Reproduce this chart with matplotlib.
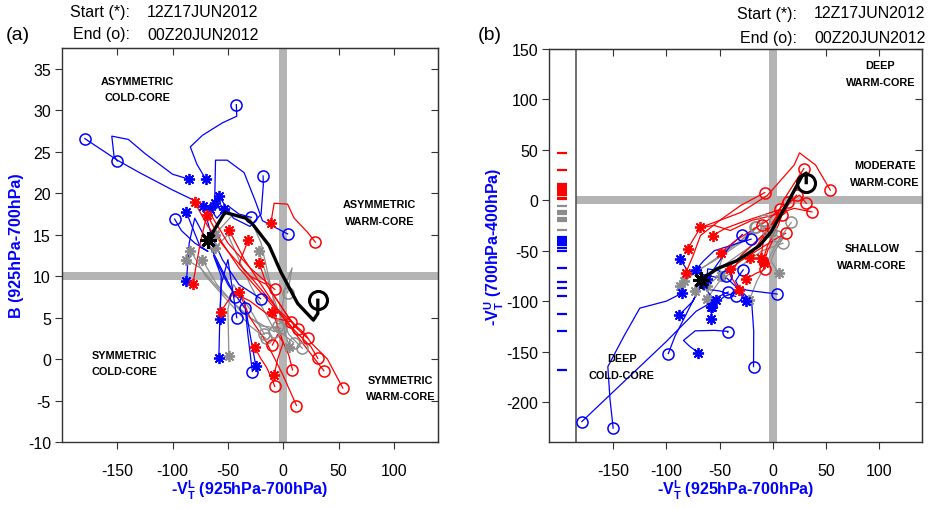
"""
Cyclone phase space: ensemble tracks, 12Z17JUN2012 -> 00Z20JUN2012.
(a) B vs -VTL, (b) -VTU vs -VTL.
"""

import matplotlib
matplotlib.use("Agg")
import matplotlib.pyplot as plt


# ─────────────────────────────────────────────
# DATA
# ─────────────────────────────────────────────

# each member: x = -VTL, b = B, u = -VTU (same number of points)
BLUE_X = [
    [-85, -100, -125, -140, -155, -153, -150],
    [-70, -78, -84, -73, -55, -42, -42.4],
    [-53.6, -72, -100, -130, -150, -179.4],
    [-62, -61.2, -50.6, -35.4, -25, -18.8, 4],
    [-58.2, -45, -30, -20, -18, -18.2],
    [-87.8, -75, -68, -80, -92, -98.2],
    [-87.5, -85, -80, -60, -45, -43.7],
    [-58.2, -57.5, -56, -50, -42],
    [-24.8, -30, -35, -32, -27.9],
    [-57.3, -56, -63, -50, -35],
    [-72.4, -65, -55, -40, -20.5],
    [-65.8, -60, -50, -40, -28.7],
]
BLUE_B = [
    [21.7, 22.3, 24.8, 26.5, 26.9, 24.5, 23.9],
    [21.7, 23.5, 25.6, 27, 28.5, 29.3, 30.7],
    [18.1, 18.6, 20.4, 22.5, 24.0, 26.6],
    [18.8, 24.0, 24.0, 22.5, 19, 16.7, 15.1],
    [19.7, 17, 16.0, 17.5, 21, 22.1],
    [17.8, 13.5, 13.0, 14, 15.5, 16.9],
    [9.4, 14, 17, 12, 8, 7.5],
    [0.1, 4, 9, 12, 5.0],
    [-0.8, 3, 7, 3, -1.5],
    [4.8, 10, 12.5, 9, 6.2],
    [18.5, 15, 12, 9, 7.3],
    [18.1, 17, 18.5, 17.5, 17.1],
]
BLUE_U = [
    [-92, -100, -107, -135, -165, -197, -226],
    [-151, -145, -139, -129.5, -129, -130, -131],
    [-99, -110, -140, -170, -190, -219.5],
    [-78, -68, -70, -85, -89, -90, -93],
    [-106, -95, -90, -100, -130, -165],
    [-113.5, -100, -85, -110, -135, -152],
    [-58, -62, -70, -75, -78, -75.6],
    [-118, -110, -100, -95, -91],
    [-100, -90, -80, -75, -69],
    [-106, -98, -88, -90, -95.4],
    [-69, -60, -50, -45, -38.6],
    [-83, -75, -60, -45, -34],
]

RED_X = [
    [-11.2, -8.2, 3.9, 9.9, 22, 29.1],
    [-80, -68, -50, -30, -5, 20, 25, 40, 53.9],
    [-68.8, -55, -40, -20, 0, 20, 36.7],
    [-49.2, -35, -20, -5, 10, 25, 31.3],
    [-31.5, -40, -30, -15, -5, 10, 22.2],
    [-21.8, -15, -5, 5, 13.8],
    [-81.8, -75, -68, -50, -30, -7.6],
    [-40, -30, -15, 0, 12.0],
    [-56.6, -45, -30, -10, 7.1],
    [-9.7, -5, 0, 5, 8.4],
    [-25.7, -20, -15, -10, -7.6],
    [-8.2, -5, 0, -5, -9.8],
]
RED_B = [
    [16.4, 18.8, 18.7, 17.0, 15.3, 14.1],
    [18.9, 16, 13, 10, 6, 3, 2, 0, -3.5],
    [17.4, 14, 11, 8, 5, 1.5, -1.4],
    [15.6, 12, 9, 6, 3.5, 1.5, 0.1],
    [14.4, 11.5, 10, 9, 7, 4, 2.5],
    [11.6, 9, 7, 5, 3.6],
    [9.0, 14, 18, 14, 11, 8.4],
    [8.1, 5, 2, -2, -5.6],
    [5.7, 8, 7, 5, 4.5],
    [5.7, 4, 2, 0.5, -1.3],
    [1.4, 0, -1, -2.5, -3.3],
    [-1.9, 0, 2, 3, 1.7],
]
RED_U = [
    [-57, -35, -15, 0, 20, 31.4],
    [-48, -27, -20, -12, 5, 35, 47, 35, 10],
    [-27, -25, -30, -20, -15, -8, -11.6],
    [-52, -40, -30, -20, -5, 5, -3],
    [-89, -75, -55, -40, -30, -10, 5],
    [-57, -45, -30, -15, -2],
    [-72, -55, -35, -20, -5, 7.6],
    [-68, -60, -50, -40, -32.7],
    [-35, -28, -22, -15, -9],
    [-60, -45, -35, -25, -15],
    [-78, -75, -72, -70, -68],
    [-62, -50, -40, -30, -25],
]

GRAY_X = [
    [-83.9, -70, -50, -30, -15.7],
    [-87.5, -75, -55, -30, -8.2],
    [-73.3, -60, -40, -20, -2.1],
    [-62.1, -50, -30, -10, 9.4],
    [-22.1, -15, -5, 5, 17.2],
    [-49.1, -50, -45, -30, -17],
    [5.5, -2, 2, 8, 4],
    [-62, -45, -30, -20, -10, -5],
]
GRAY_B = [
    [13.1, 10, 7, 4, 2.5],
    [12.0, 11, 8, 5, 3.3],
    [12.0, 9, 6, 4, 3.7],
    [13.4, 15, 9, 4, 2.0],
    [13.1, 10, 6, 3, 1.3],
    [0.4, 6, 9, 6, 3],
    [1.4, 5, 9, 11, 8],
    [15, 17.5, 17, 14, 8, 4],
]
GRAY_U = [
    [-80, -70, -55, -40, -27],
    [-85, -72, -60, -42, -20],
    [-90, -75, -60, -45, -30],
    [-98, -80, -65, -50, -42.6],
    [-99, -80, -60, -40, -22],
    [-75, -65, -50, -40, -27],
    [-72, -60, -50, -40, -35],
    [-85, -70, -55, -45, -35, -30],
]

# ensemble mean / analysis track
BLACK_X = [-67.8, -52.7, -33.9, -27.8, -12.7, -2.1, 13.1, 27.3, 31.3, 31.3]
BLACK_B = [14.4, 17.7, 17.0, 16.3, 13.7, 10.5, 6.7, 4.7, 5.5, 7.1]
BLACK_U = [-79, -68, -60, -56, -45, -32, -4, 24, 27, 17.5]

# -VTU marks on the left of panel (b)
RUG_RED = [46.5, 30.4, 15.8, 14.2, 12.5, 10.9, 9.2, 6.9, 5, 2.6, 1]
RUG_GRAY = [-5.3, -10.6, -12.2, -13.9, -17.2, -18.8, -20.5, -29.4]
RUG_BLUE = [-36, -38, -40.3, -42.6, -44.6, -46.9, -50.2, -67.3,
            -80.9, -87.4, -94.7, -113.2, -129.7, -168.3]

START = "12Z17JUN2012"
END = "00Z20JUN2012"

# ─────────────────────────────────────────────
# STYLE
# ─────────────────────────────────────────────

plt.rcParams["font.family"] = ["Liberation Sans", "DejaVu Sans"]
plt.rcParams["axes.unicode_minus"] = False
plt.rcParams["mathtext.fontset"] = "custom"
plt.rcParams["mathtext.rm"] = "Liberation Sans"
plt.rcParams["mathtext.bf"] = "Liberation Sans:bold"

BLUE = "#0000ff"
RED = "#ff0000"
GRAY = "#8c8c8c"
BAR = "#b4b4b4"
SPINE = "#333333"
STAR = (8, 2, 0)   # asterisk marker

XLABEL = r"-$\mathbf{V}_{\mathbf{T}}^{\mathbf{L}}$ (925hPa-700hPa)"
YLABEL_B = r"-$\mathbf{V}_{\mathbf{T}}^{\mathbf{U}}$ (700hPa-400hPa)"


def draw_members(ax, xs, ys, color):
    for x, y in zip(xs, ys):
        ax.plot(x, y, color=color, lw=0.9, zorder=3)
        ax.plot(x[0], y[0], marker=STAR, ms=8, mew=1.3, color=color,
                ls="none", zorder=4)
        ax.plot(x[-1], y[-1], marker="o", ms=8, mfc="none", mew=1.1,
                mec=color, ls="none", zorder=4)


def draw_black(ax, x, y):
    ax.plot(x, y, color="black", lw=2.4, zorder=6)
    ax.plot(x[0], y[0], marker=STAR, ms=12, mew=2.2, color="black",
            ls="none", zorder=7)
    ax.plot(x[-1], y[-1], marker="o", ms=13, mfc="none", mew=2.2,
            mec="black", ls="none", zorder=7)


def frame(ax, xticks, yticks):
    ax.set_xticks(xticks)
    ax.set_yticks(yticks)
    ax.tick_params(direction="out", length=5, labelsize=11.5,
                   color=SPINE, pad=3)
    ax.tick_params(axis="x", pad=10)
    for s in ax.spines.values():
        s.set_color(SPINE)
        s.set_linewidth(1.0)
    top = ax.secondary_xaxis("top")
    top.set_xticks(xticks)
    top.tick_params(direction="in", length=5, labeltop=False, color=SPINE)
    right = ax.secondary_yaxis("right")
    right.set_yticks(yticks)
    right.tick_params(direction="in", length=5, labelright=False, color=SPINE)
    for sec in (top, right):
        for s in sec.spines.values():
            s.set_color(SPINE)


def quadrant_text(ax, x, y, txt):
    ax.text(x, y, txt, ha="center", va="center", fontsize=7.8,
            fontweight="bold", linespacing=1.8, zorder=8)


# ─────────────────────────────────────────────
# FIGURE
# ─────────────────────────────────────────────

fig = plt.figure(figsize=(9.3, 5.1), dpi=100)
ax1 = fig.add_axes([0.0667, 0.1314, 0.4043, 0.772])
ax2 = fig.add_axes([0.5906, 0.1308, 0.4008, 0.7712])

# ── (a) B vs -VTL ──
ax1.set_xlim(-200, 140)
ax1.set_ylim(-10, 37.5)
ax1.axvspan(-3.75, 3.75, color=BAR, lw=0, zorder=1)
ax1.axhspan(9.55, 10.45, color=BAR, lw=0, zorder=1)
draw_members(ax1, GRAY_X, GRAY_B, GRAY)
draw_members(ax1, BLUE_X, BLUE_B, BLUE)
draw_members(ax1, RED_X, RED_B, RED)
draw_black(ax1, BLACK_X, BLACK_B)
frame(ax1, [-150, -100, -50, 0, 50, 100], list(range(-10, 36, 5)))
quadrant_text(ax1, -132, 32.6, "ASYMMETRIC\nCOLD-CORE")
quadrant_text(ax1, 87, 17.7, "ASYMMETRIC\nWARM-CORE")
quadrant_text(ax1, -144, -0.5, "SYMMETRIC\nCOLD-CORE")
quadrant_text(ax1, 106, -3.5, "SYMMETRIC\nWARM-CORE")
ax1.set_xlabel(XLABEL, color=BLUE, fontsize=11.5, fontweight="bold",
               labelpad=0)
ax1.set_ylabel("B (925hPa-700hPa)", color=BLUE, fontsize=11.5,
               fontweight="bold", labelpad=3)

# ── (b) -VTU vs -VTL ──
ax2.set_xlim(-210, 140)
ax2.set_ylim(-240, 150)
ax2.axvspan(-3.75, 3.75, color=BAR, lw=0, zorder=1)
ax2.axhspan(-3.8, 3.8, xmin=25 / 350, xmax=1, color=BAR, lw=0, zorder=1)
ax2.axvline(-185, color="#555555", lw=1.2, zorder=2)
ax2.hlines(RUG_RED, -203, -193, color=RED, lw=1.6)
ax2.hlines(RUG_GRAY, -203, -193, color=GRAY, lw=1.6)
ax2.hlines(RUG_BLUE, -203, -193, color=BLUE, lw=1.6)
draw_members(ax2, GRAY_X, GRAY_U, GRAY)
draw_members(ax2, BLUE_X, BLUE_U, BLUE)
draw_members(ax2, RED_X, RED_U, RED)
draw_black(ax2, BLACK_X, BLACK_U)
frame(ax2, [-150, -100, -50, 0, 50, 100], list(range(-200, 151, 50)))
quadrant_text(ax2, 101, 125.7, "DEEP\nWARM-CORE")
quadrant_text(ax2, 105, 26.7, "MODERATE\nWARM-CORE")
quadrant_text(ax2, 93, -55.8, "SHALLOW\nWARM-CORE")
quadrant_text(ax2, -142, -165, "DEEP\nCOLD-CORE")
ax2.set_xlabel(XLABEL, color=BLUE, fontsize=11.5, fontweight="bold",
               labelpad=0)
ax2.set_ylabel(YLABEL_B, color=BLUE, fontsize=11.5, fontweight="bold",
               labelpad=0)

# ── header texts ──
fig.text(6 / 930, 1 - 35 / 510, "(a)", fontsize=14, va="center")
fig.text(478 / 930, 1 - 35 / 510, "(b)", fontsize=14, va="center")
for x0, y_s, y_e in [(130, 12.7, 35), (797, 14, 39)]:
    fig.text(x0 / 930, 1 - y_s / 510, "Start (*):", ha="right",
             va="center", fontsize=11.5)
    fig.text((x0 + 17) / 930, 1 - y_s / 510, START, ha="left",
             va="center", fontsize=11.5)
    fig.text(x0 / 930, 1 - y_e / 510, "End (o):", ha="right",
             va="center", fontsize=11.5)
    fig.text((x0 + 17) / 930, 1 - y_e / 510, END, ha="left",
             va="center", fontsize=11.5)

fig.savefig("out.png", dpi=100)
